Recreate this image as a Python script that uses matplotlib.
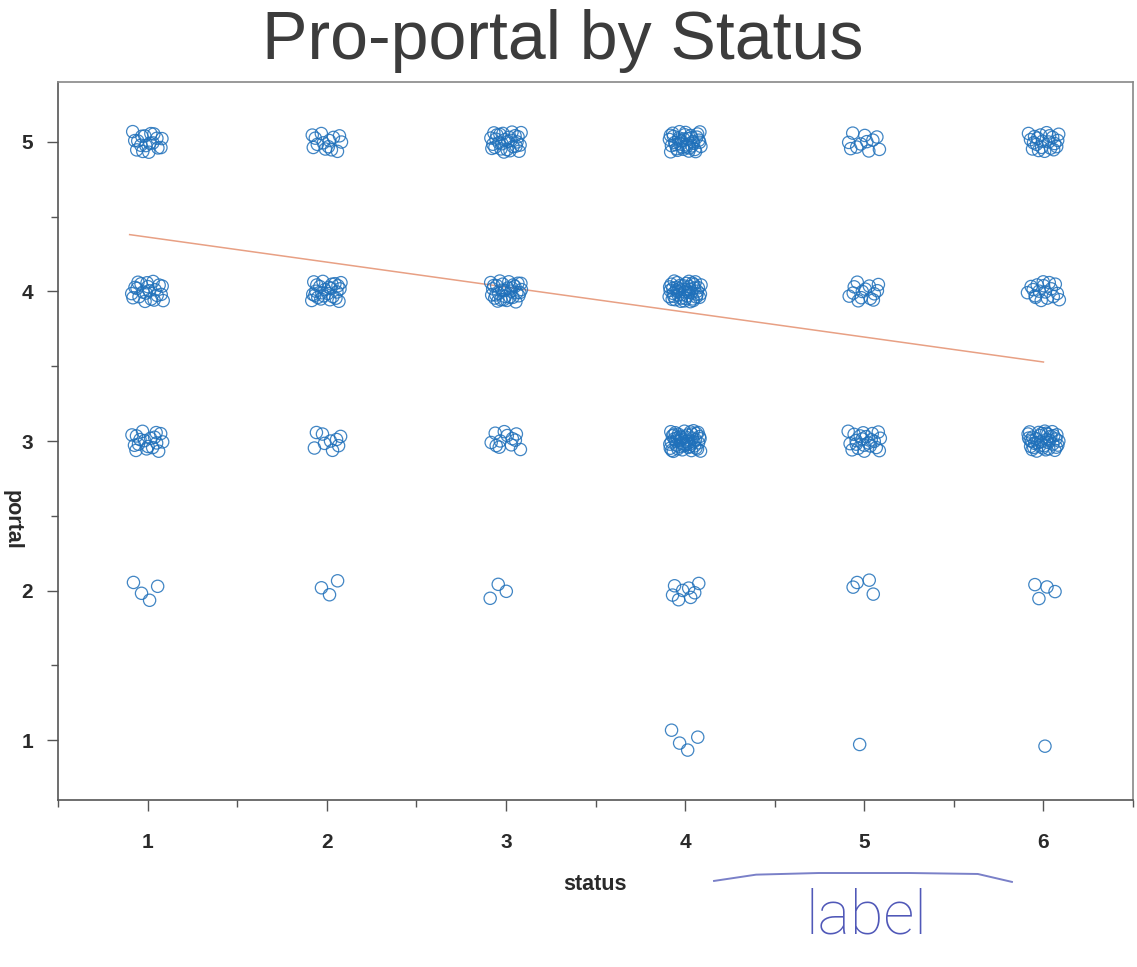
import numpy as np
import matplotlib
matplotlib.use("Agg")
import matplotlib.pyplot as plt
from matplotlib.ticker import MultipleLocator

plt.rcParams['font.family'] = ['Liberation Sans', 'DejaVu Sans']

# ---- data -------------------------------------------------------------
status_levels = [1, 2, 3, 4, 5, 6]
portal_levels = [1, 2, 3, 4, 5]

# number of respondents in each (status, portal) cell; columns = portal 1..5
counts_s1 = [0, 4, 18, 22, 18]
counts_s2 = [0, 3, 9, 26, 14]
counts_s3 = [0, 3, 12, 32, 28]
counts_s4 = [4, 8, 48, 46, 38]
counts_s5 = [1, 4, 22, 14, 11]
counts_s6 = [1, 4, 38, 18, 22]

# least-squares fit of portal on status
fit_intercept = 4.53
fit_slope = -0.167
fit_range = [0.9, 6.0]

x_ticks = [1, 2, 3, 4, 5, 6]
y_ticks = [1, 2, 3, 4, 5]

title = "Pro-portal by Status"
x_label = "status"
y_label = "portal"


# deterministic jitter (Halton low-discrepancy sequence)
def halton(i, base):
    f, r = 1.0, 0.0
    while i > 0:
        f /= base
        r += f * (i % base)
        i //= base
    return r


all_counts = [counts_s1, counts_s2, counts_s3, counts_s4, counts_s5, counts_s6]
xs, ys = [], []
start = 1
for s, row in zip(status_levels, all_counts):
    for p, n in zip(portal_levels, row):
        for k in range(n):
            idx = start + k
            xs.append(s + (halton(idx, 2) - 0.5) * 0.18)
            ys.append(p + (halton(idx, 3) - 0.5) * 0.14)
        start += n + 7
xs = np.array(xs)
ys = np.array(ys)

# ---- figure -----------------------------------------------------------
fig = plt.figure(figsize=(11.37, 9.67), dpi=100)
ax = fig.add_axes([0.051, 0.1727, 0.9455, 0.7425])

ax.scatter(xs, ys, s=78, facecolors='none', edgecolors='#1f70ba',
           linewidths=0.9, alpha=0.85, zorder=3)

fx = np.array(fit_range)
ax.plot(fx, fit_intercept + fit_slope * fx, color='#e8a084', lw=1.1, zorder=2)

ax.set_xlim(0.5, 6.5)
ax.set_ylim(0.6, 5.4)
ax.set_xticks(x_ticks)
ax.set_yticks(y_ticks)
ax.xaxis.set_minor_locator(MultipleLocator(0.5))
ax.yaxis.set_minor_locator(MultipleLocator(0.5))

ax.tick_params(axis='both', which='major', length=8, width=1.0,
               color='#555555', labelsize=15, labelcolor='#2a2a2a')
ax.tick_params(axis='both', which='minor', length=5, width=1.0,
               color='#555555')
ax.tick_params(axis='x', which='major', pad=16)
ax.tick_params(axis='y', which='major', pad=10)
for lab in ax.get_xticklabels() + ax.get_yticklabels():
    lab.set_fontweight('bold')

for side in ['left', 'bottom']:
    ax.spines[side].set_color('#555555')
    ax.spines[side].set_linewidth(1.2)
for side in ['top', 'right']:
    ax.spines[side].set_color('#888888')
    ax.spines[side].set_linewidth(1.2)

fig.text(0.495, 0.939, title, ha='center', va='baseline',
         fontsize=49, color='#3c3c3c')
fig.text(0.523, 0.080, x_label, ha='center', va='baseline',
         fontsize=15.5, fontweight='bold', color='#2a2a2a')
fig.text(0.011, 0.462, y_label, ha='center', va='center',
         rotation=270, fontsize=15.5, fontweight='bold', color='#2a2a2a')

# pen annotation below the axis
cx = np.array([0.628, 0.665, 0.720, 0.800, 0.860, 0.890])
cy = np.array([0.0890, 0.0955, 0.0972, 0.0972, 0.0962, 0.0880])
fig.add_artist(plt.Line2D(cx, cy, color='#7a80c8', lw=1.4,
                          transform=fig.transFigure))
fig.text(0.762, 0.035, "label", ha='center', va='baseline', fontsize=44,
         color='#5058b8', family=['Roboto', 'DejaVu Sans'], fontweight='light')

fig.savefig("out.png", dpi=100)
